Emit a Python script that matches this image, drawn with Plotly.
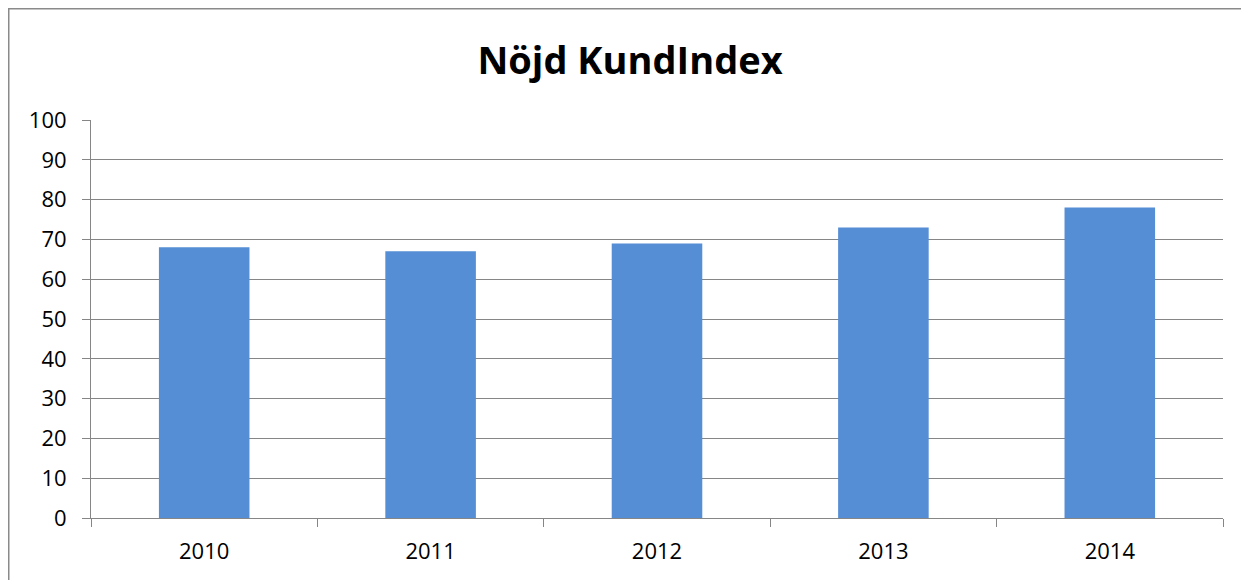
import plotly.graph_objects as go

years = ["2010", "2011", "2012", "2013", "2014"]
values = [68, 67, 69, 73, 78]
y_ticks = [0, 10, 20, 30, 40, 50, 60, 70, 80, 90, 100]

W, H = 1249, 580
# page has an 8px body margin; positions below are in figure coords
ml, mt = 83, 112
pw, ph = 1132, 398
mr, mb = W - ml - pw, H - mt - ph

fig = go.Figure(go.Bar(x=years, y=values, marker=dict(color="#558ED5", line=dict(width=0)), width=0.4))

grid = "#868686"
fnt = "Open Sans, Liberation Sans, sans-serif"
fig.update_layout(
    width=W, height=H,
    margin=dict(l=ml, r=mr, t=mt, b=mb),
    paper_bgcolor="white", plot_bgcolor="white",
    showlegend=False,
    font=dict(family=fnt, color="black", size=22),
    title=dict(text="<b>Nöjd KundIndex</b>", x=(630 - 8) / W, xanchor="center",
               y=1 - (61 - 8) / H, yanchor="middle", yref="container",
               font=dict(size=38, family=fnt, color="black")),
    xaxis=dict(showgrid=False, showline=True, linecolor=grid, linewidth=1,
               ticks="outside", tickson="boundaries", ticklen=8, tickcolor=grid,
               tickfont=dict(size=22), ticklabelstandoff=14),
    yaxis=dict(range=[0, 100], tickvals=y_ticks, showgrid=True, gridcolor=grid, gridwidth=1,
               showline=True, linecolor=grid, linewidth=1, ticks="outside", ticklen=8,
               tickcolor=grid, tickfont=dict(size=22), zeroline=False, ticklabelstandoff=11),
    shapes=[dict(type="rect", xref="paper", yref="paper",
                 x0=(0.75 - ml) / pw, x1=(W + 40 - ml) / pw,
                 y0=-(mb + 40) / ph, y1=(ph + mt - 0.75) / ph,
                 line=dict(color="#8a8a8a", width=1.5), fillcolor="rgba(0,0,0,0)", layer="below")],
)

fig.write_html("out.html")
